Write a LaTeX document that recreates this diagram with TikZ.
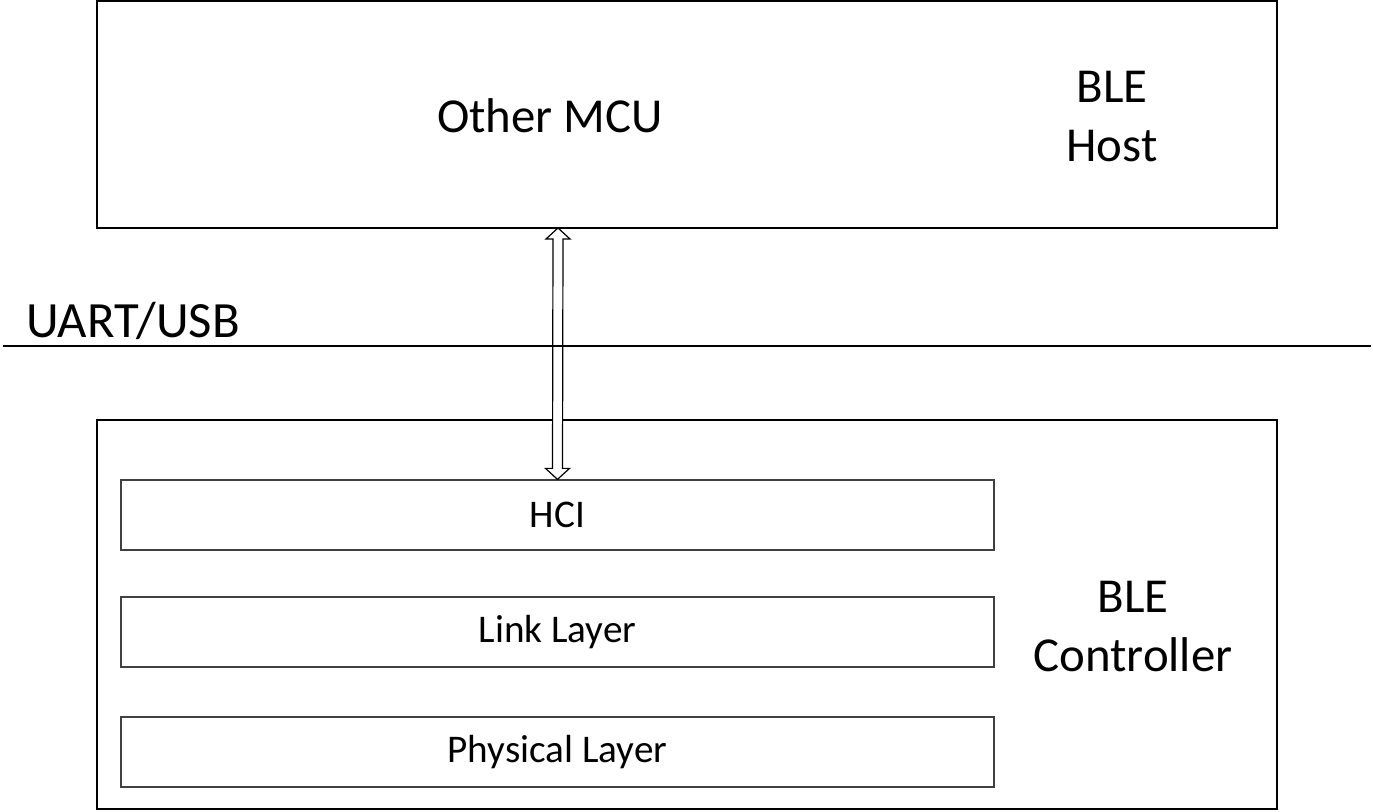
\documentclass[tikz,border=0pt]{standalone}
\usepackage{fontspec}
\setmainfont{Carlito}
\usetikzlibrary{calc}
\begin{document}
\begin{tikzpicture}[x=0.5pt,y=-0.5pt,
  outerbox/.style={draw=black,line width=0.6pt},
  layerbox/.style={draw=black!75,line width=0.6pt},
  bigtxt/.style={font=\fontsize{24.4}{29.5}\selectfont,align=center,inner sep=0pt},
  smalltxt/.style={font=\fontsize{19.6}{23}\selectfont,inner sep=0pt},
  arrowshape/.style={draw=black,line width=0.6pt,fill=white,line join=miter}]
\useasboundingbox (0,0) rectangle (1373,812);
% boxes
\draw[outerbox] (97,1) rectangle (1277,228);
\coordinate (hostS) at (558,228);
\draw[outerbox] (97,420) rectangle (1277,809);
\node[layerbox,minimum width=436.5pt,minimum height=35pt,inner sep=0pt] (hci) at (557.5,515) {};
\node[layerbox,minimum width=436.5pt,minimum height=35pt,inner sep=0pt] (link) at (557.5,632) {};
\node[layerbox,minimum width=436.5pt,minimum height=35pt,inner sep=0pt] (phy) at (557.5,752) {};
\node[smalltxt] at (hci) {HCI};
\node[smalltxt] at (link) {Link Layer};
\node[smalltxt] at (phy) {Physical Layer};
% texts
\node[bigtxt] (mcu) at (550,116) {Other MCU};
\node[bigtxt] (host) at (1112,117) {BLE\\Host};
\node[bigtxt] (ctrl) at (1133,627) {BLE\\Controller};
\node[bigtxt,font=\fontsize{25.4}{30}\selectfont,anchor=base] (uart) at (133,338) {UART/USB};
% double arrow
\coordinate (T) at (hostS);
\coordinate (B) at (hci.north);
\draw[arrowshape] (T) -- ($(T)+(12,11)$) -- ($(T)+(5,11)$) -- ($(B)+(5,-11)$) -- ($(B)+(12,-11)$) -- (B)
  -- ($(B)+(-12,-11)$) -- ($(B)+(-5,-11)$) -- ($(T)+(-5,11)$) -- ($(T)+(-12,11)$) -- cycle;
% separator line (drawn over the arrow, as in the reference)
\coordinate (lineL) at (3,346);
\coordinate (lineR) at (1371,346);
\draw[black,line width=0.6pt] (lineL) -- (lineR);
\end{tikzpicture}
\end{document}
